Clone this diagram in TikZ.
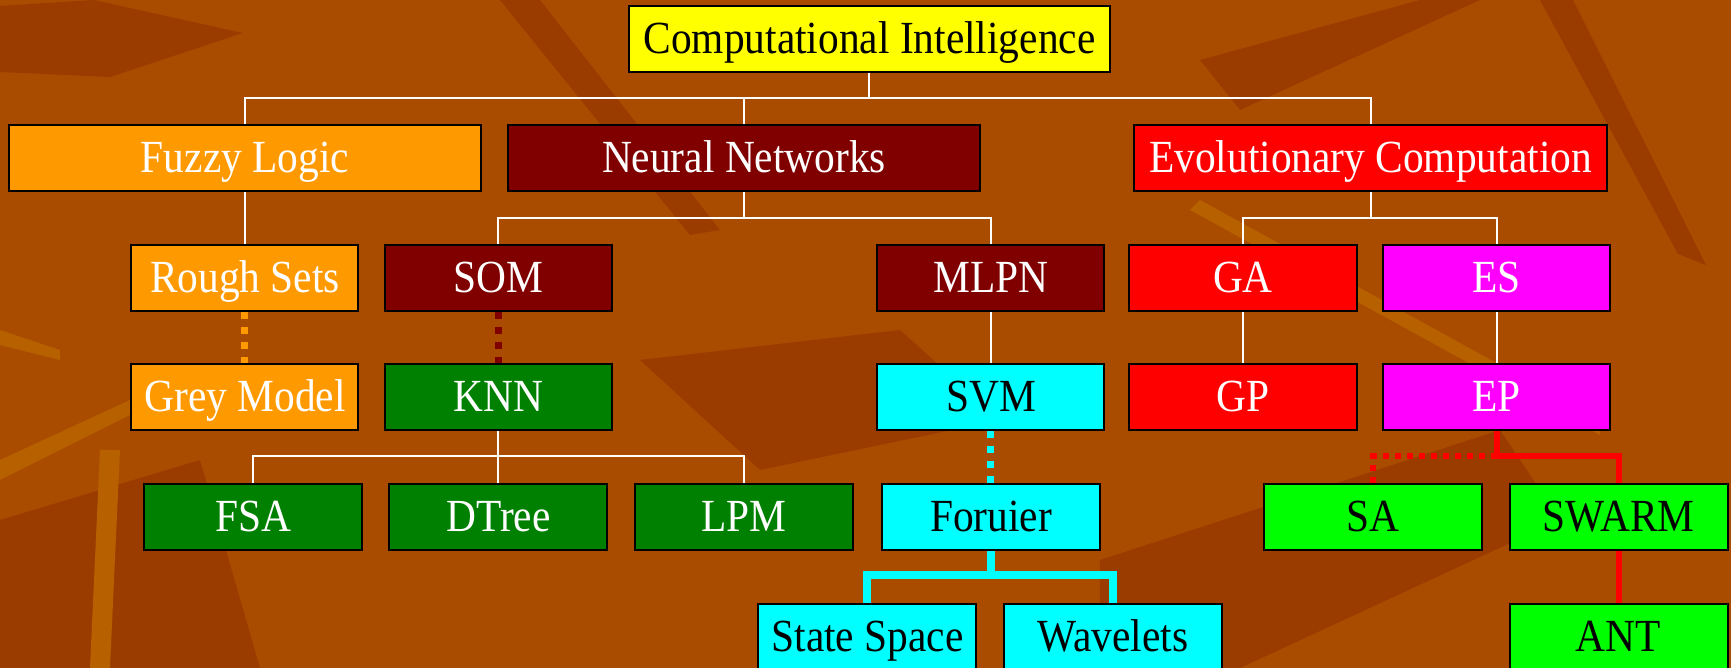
\documentclass[tikz,border=0pt]{standalone}
\usepackage{fontspec}
\setmainfont{Liberation Serif}[FakeStretch=0.9]
\usepackage{tikz}
\usetikzlibrary{shapes.geometric, arrows}
\usepackage{xcolor}

\definecolor{bgbrown}{RGB}{170,76,0}
\definecolor{bgdark}{RGB}{154,60,0}
\definecolor{bglight}{RGB}{182,96,0}
\definecolor{florange}{RGB}{255,153,0}
\definecolor{nnred}{RGB}{128,0,0}
\definecolor{knngreen}{RGB}{0,128,0}
\definecolor{svmcyan}{RGB}{0,255,255}
\definecolor{esmagenta}{RGB}{255,0,255}
\definecolor{ecred}{RGB}{255,0,0}
\definecolor{swgreen}{RGB}{0,255,0}
\definecolor{ciyellow}{RGB}{255,255,0}

\begin{document}
\begin{tikzpicture}[node distance=59.75pt, auto]
    % Define styles
    \tikzstyle{box} = [rectangle, minimum height=33pt, text centered, draw=black, line width=1pt, inner sep=2pt, text height=15pt, text depth=0.5pt, font=\fontsize{23}{27}\selectfont]
    \tikzstyle{topbox} = [box, minimum width=240.5pt, fill=ciyellow, text=black]
    \tikzstyle{wide} = [box, minimum width=236pt, text=white]
    \tikzstyle{mid} = [box, minimum width=113.5pt, text=white]
    \tikzstyle{small} = [box, minimum width=109pt, text=white]
    \tikzstyle{link} = [white, line width=1pt]
    \tikzstyle{dashlink} = [line width=3.5pt, dash pattern=on 3.5pt off 4pt]
    \tikzstyle{redlink} = [ecred, line width=3pt]
    \tikzstyle{reddots} = [ecred, line width=3pt, dash pattern=on 3pt off 3pt]
    \tikzstyle{cyanlink} = [svmcyan, line width=4pt]

    \useasboundingbox (-434.75pt,19.5pt) rectangle (430.75pt,-314.5pt);

    % Background
    \begin{scope}[x=0.5pt, y=-0.5pt, shift={(-434.75pt,19.5pt)}]
        \fill[bgbrown] (0,0) rectangle (1731,668);
        \fill[bgdark] (0,6) -- (94,0) -- (243,33) -- (110,77) -- (0,72) -- cycle;
        \fill[bgdark] (1540,0) -- (1573,0) -- (1706,265) -- (1678,254) -- cycle;
        \fill[bgdark] (500,0) -- (540,0) -- (720,230) -- (690,235) -- cycle;
        \fill[bgdark] (1200,60) -- (1420,0) -- (1480,0) -- (1240,110) -- cycle;
        \fill[bgdark] (640,360) -- (900,330) -- (1000,420) -- (760,470) -- cycle;
        \fill[bgdark] (1100,560) -- (1500,430) -- (1560,520) -- (1240,668) -- (1100,668) -- cycle;
        \fill[bgdark] (0,520) -- (200,460) -- (260,668) -- (0,668) -- cycle;
        \fill[bglight] (0,460) -- (130,400) -- (140,410) -- (0,480) -- cycle;
        \fill[bglight] (0,330) -- (60,350) -- (60,360) -- (0,345) -- cycle;
        \fill[bglight] (100,450) -- (120,450) -- (110,668) -- (90,668) -- cycle;
        \fill[bglight] (1200,200) -- (1600,420) -- (1600,435) -- (1190,210) -- cycle;
    \end{scope}

    % Nodes
    \node (ci) [topbox] at (0,0) {Computational Intelligence};
    \node (fuzzy) [wide, fill=florange, below of=ci, xshift=-312.25pt] {Fuzzy Logic};
    \node (neural) [wide, fill=nnred, below of=ci, xshift=-62.75pt] {Neural Networks};
    \node (evo) [wide, fill=ecred, below of=ci, xshift=250.5pt] {Evolutionary Computation};

    \node (rough) [mid, fill=florange, below of=fuzzy] {Rough Sets};
    \node (som) [mid, fill=nnred, below of=neural, xshift=-122.75pt] {SOM};
    \node (mlpn) [mid, fill=nnred, below of=neural, xshift=123.5pt] {MLPN};
    \node (ga) [mid, fill=ecred, below of=evo, xshift=-63.75pt] {GA};
    \node (es) [mid, fill=esmagenta, below of=evo, xshift=63pt] {ES};

    \node (grey) [mid, fill=florange, below of=rough] {Grey Model};
    \node (knn) [mid, fill=knngreen, below of=som] {KNN};
    \node (svm) [mid, fill=svmcyan, text=black, below of=mlpn] {SVM};
    \node (gp) [mid, fill=ecred, below of=ga] {GP};
    \node (ep) [mid, fill=esmagenta, below of=es] {EP};

    \node (fsa) [small, fill=knngreen, below of=knn, xshift=-122.75pt] {FSA};
    \node (dtree) [small, fill=knngreen, below of=knn] {DTree};
    \node (lpm) [small, fill=knngreen, below of=knn, xshift=122.75pt] {LPM};
    \node (forier) [small, fill=svmcyan, text=black, below of=svm] {Foruier};
    \node (sa) [small, fill=swgreen, text=black, below of=ep, xshift=-61.75pt] {SA};
    \node (swarm) [small, fill=swgreen, text=black, below of=ep, xshift=61pt] {SWARM};

    \node (state) [small, fill=svmcyan, text=black, below of=forier, xshift=-61.75pt] {State Space};
    \node (wave) [small, fill=svmcyan, text=black, below of=forier, xshift=61pt] {Wavelets};
    \node (ant) [small, fill=swgreen, text=black, below of=swarm] {ANT};

    % Connectors
    \draw [link] (ci.south) -- ++(0,-12.5pt) -| (fuzzy.north);
    \draw [link] (ci.south) -- ++(0,-12.5pt) -| (neural.north);
    \draw [link] (ci.south) -- ++(0,-12.5pt) -| (evo.north);
    \draw [link] (fuzzy) -- (rough);
    \draw [link] (neural.south) -- ++(0,-13pt) -| (som.north);
    \draw [link] (neural.south) -- ++(0,-13pt) -| (mlpn.north);
    \draw [link] (evo.south) -- ++(0,-13pt) -| (ga.north);
    \draw [link] (evo.south) -- ++(0,-13pt) -| (es.north);
    \draw [link] (mlpn) -- (svm);
    \draw [link] (ga) -- (gp);
    \draw [link] (es) -- (ep);
    \draw [dashlink, florange] (rough) -- (grey);
    \draw [dashlink, nnred] (som) -- (knn);
    \draw [dashlink, svmcyan] (svm) -- (forier);
    \draw [link] (knn.south) -- ++(0,-12.5pt) -| (fsa.north);
    \draw [link] (knn.south) -- ++(0,-12.5pt) -| (dtree.north);
    \draw [link] (knn.south) -- ++(0,-12.5pt) -| (lpm.north);
    \draw [cyanlink] (forier.south) -- ++(0,-12pt) -| (state.north);
    \draw [cyanlink] (forier.south) -- ++(0,-12pt) -| (wave.north);
    \draw [redlink] (ep.south) -- ++(0,-12.5pt) coordinate (epjoin) -| (swarm.north);
    \draw [reddots] (epjoin) -| (sa.north);
    \draw [redlink] (swarm) -- (ant);
\end{tikzpicture}
\end{document}
